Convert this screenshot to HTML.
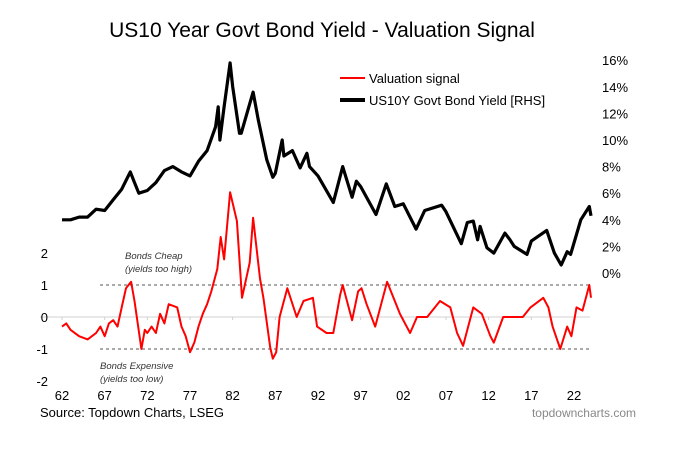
<!DOCTYPE html>
<html><head><meta charset="utf-8"><style>
body{margin:0;background:#fff;}
svg{display:block;font-family:"Liberation Sans",Arial,sans-serif;}
</style></head><body>
<svg id="chart" width="691" height="451">
<text x="322" y="37" font-size="21" text-anchor="middle" fill="#000">US10 Year Govt Bond Yield - Valuation Signal</text>
<g>
<line x1="340" y1="78" x2="365" y2="78" stroke="#ff0000" stroke-width="2"/>
<text x="369" y="83" font-size="13">Valuation signal</text>
<line x1="340" y1="100" x2="365" y2="100" stroke="#000" stroke-width="4"/>
<text x="369" y="105" font-size="13">US10Y Govt Bond Yield [RHS]</text>
</g>
<g id="axes"></g>
<g id="marks"></g>
<g font-size="9.5" font-style="italic" fill="#333">
<text x="125" y="259">Bonds Cheap</text>
<text x="125" y="272">(yields too high)</text>
<text x="100" y="369">Bonds Expensive</text>
<text x="100" y="382">(yields too low)</text>
</g>
<text x="40" y="417" font-size="13">Source: Topdown Charts, LSEG</text>
<text x="636" y="417" font-size="12" fill="#888" text-anchor="end">topdowncharts.com</text>
</svg>
<script>
const xTickLabels=["62","67","72","77","82","87","92","97","02","07","12","17","22"];
const leftTicks=[2,1,0,-1,-2];
const rightTicks=[16,14,12,10,8,6,4,2,0];
const yieldYears=[62,63,64,65,66,67,68,69,70,70.5,71,72,73,74,75,76,77,78,79,80,80.3,80.5,81,81.7,82,82.8,83,84.4,85,86,86.7,87,87.8,88,89,89.9,90.7,91,92,93.8,94.9,96,96.5,97,98.8,100,101,102,103.5,104.5,106.5,107,108.8,109.5,110.2,110.7,111,111.8,112.6,113.9,114.5,115,116.5,117,118.8,119.7,120.5,121.2,121.6,122.3,122.8,123.8,124];
const yieldValues=[4.0,4.0,4.2,4.2,4.8,4.7,5.5,6.3,7.6,6.8,6.0,6.2,6.8,7.7,8.0,7.6,7.3,8.4,9.2,11.0,12.5,10.0,12.5,15.8,14.0,10.5,10.5,13.6,11.5,8.5,7.2,7.5,10.0,8.8,9.2,7.9,9.0,8.0,7.3,5.3,8.0,5.7,6.9,6.5,4.4,6.7,5.0,5.2,3.3,4.7,5.1,4.6,2.2,3.8,3.9,2.5,3.5,1.9,1.5,3.0,2.5,2.0,1.4,2.4,3.2,1.5,0.6,1.6,1.4,2.9,4.0,5.0,4.3];
const signalYears=[62,62.5,63,64,65,65.5,66,66.5,67,67.5,68,68.5,69,69.5,70.1,70.5,71.3,71.7,72,72.5,73,73.5,74,74.5,75.5,76,76.5,77,77.5,78,78.5,79,79.5,80.2,80.6,81,81.7,82.5,83.1,84,84.4,85.2,85.6,86.4,86.7,87.1,87.5,88.4,89.5,90.3,91.4,91.9,93,93.8,94.6,94.9,96,96.7,97.1,97.7,98.7,100.1,101.6,102.8,103.6,104.8,106.3,107.5,108.3,109,110.2,111.2,112.2,112.6,113.7,114.9,116,116.9,118.4,119,119.5,120.4,121.2,121.7,122.3,123,123.8,124];
const signalValues=[-0.3,-0.2,-0.4,-0.6,-0.7,-0.6,-0.5,-0.3,-0.6,-0.2,-0.1,-0.3,0.3,0.9,1.1,0.5,-1.0,-0.4,-0.5,-0.3,-0.5,0.1,-0.2,0.4,0.3,-0.3,-0.6,-1.1,-0.8,-0.3,0.1,0.4,0.8,1.5,2.5,1.8,3.9,3.0,0.6,1.7,3.1,1.2,0.6,-0.95,-1.3,-1.1,0.0,0.9,0.0,0.5,0.6,-0.3,-0.5,-0.5,0.7,1.0,-0.1,0.8,0.9,0.4,-0.3,1.1,0.1,-0.5,0.0,0.0,0.5,0.3,-0.5,-0.9,0.3,0.1,-0.6,-0.8,0.0,0.0,0.0,0.3,0.6,0.3,-0.3,-1.0,-0.3,-0.6,0.3,0.2,1.0,0.6];
const NS="http://www.w3.org/2000/svg";
const X=y=>62+(y-62)*8.533;
const YL=v=>317-v*32;
const YR=v=>273-v*13.3;
const axes=document.getElementById('axes'),marks=document.getElementById('marks');
function mk(tag,attrs,parent){const e=document.createElementNS(NS,tag);for(const k in attrs)e.setAttribute(k,attrs[k]);parent.appendChild(e);return e;}
// zero line and thresholds
let z=mk('line',{x1:40,x2:590,y1:YL(0),y2:YL(0),stroke:'#d0d0d0','stroke-width':1},axes);


[1,-1].forEach(v=>{const l=mk('line',{x1:100,x2:590,y1:YL(v),y2:YL(v),stroke:'#777','stroke-width':1.2,'stroke-dasharray':'3,3'},axes);

});
leftTicks.forEach(v=>{const t=mk('text',{x:48,y:YL(v)+5,'font-size':13,'text-anchor':'end'},axes);t.textContent=v;

});
rightTicks.forEach(v=>{const t=mk('text',{x:602,y:YR(v)+5,'font-size':13},axes);t.textContent=v+'%';

});
xTickLabels.forEach((s,i)=>{const yr=62+5*i;
const tk=mk('line',{x1:X(yr),x2:X(yr),y1:YL(0),y2:YL(0)+3,stroke:'#d0d0d0'},axes);


const t=mk('text',{x:X(yr),y:400,'font-size':13,'text-anchor':'middle'},axes);t.textContent=s;

});
const yp=mk('polyline',{points:yieldYears.map((y,i)=>X(y).toFixed(1)+','+YR(yieldValues[i]).toFixed(1)).join(' '),fill:'none',stroke:'#000','stroke-width':3.2,'stroke-linejoin':'round'},marks);


const sp=mk('polyline',{points:signalYears.map((y,i)=>X(y).toFixed(1)+','+YL(signalValues[i]).toFixed(1)).join(' '),fill:'none',stroke:'#ff0000','stroke-width':2,'stroke-linejoin':'round'},marks);


</script>
</body></html>
